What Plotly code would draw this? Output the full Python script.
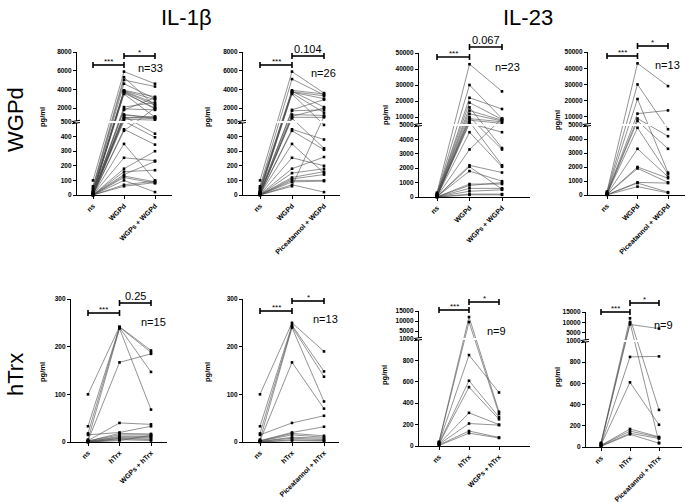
import plotly.graph_objects as go

W, H = 685, 502

# ---------------- data (pg/ml) ----------------
# IL-1b, WGPd stimulation, WGPs + WGPd (n=33)
p1_ns = [100, 60, 50, 40, 30, 25, 20, 20, 15, 15, 10, 10, 10, 8, 8, 5, 5, 5, 5, 3, 3, 3, 2, 2, 2, 1, 1, 1, 0, 0, 0, 0, 0]
p1_stim = [5900, 5300, 5000, 4600, 3900, 3850, 3800, 3750, 3700, 3600, 3500, 2100, 1900, 1800, 1300, 1250, 1100,
           1000, 900, 800, 600, 450, 440, 350, 255, 180, 160, 140, 130, 120, 100, 70, 60]
p1_treat = [4600, 2200, 4300, 3000, 3200, 2900, 2500, 2300, 1900, 2000, 1000, 2600, 1800, 3100, 950, 900, 420,
            850, 1100, 700, 395, 345, 2000, 100, 235, 300, 170, 230, 90, 80, 20, 95, 85]
# IL-1b, WGPd stimulation, Piceatannol + WGPd (n=26)
p2_ns = [100, 60, 50, 40, 30, 25, 20, 20, 15, 15, 10, 10, 8, 8, 5, 5, 5, 3, 3, 2, 2, 1, 1, 0, 0, 0]
p2_stim = [5900, 5100, 3900, 3800, 3750, 3700, 3600, 3500, 1800, 1700, 1300, 1100, 1000, 900, 450, 440, 350,
           255, 180, 150, 120, 110, 100, 90, 70, 60]
p2_treat = [3600, 3400, 3500, 2100, 3300, 3000, 1500, 480, 2900, 1800, 1200, 2000, 1000, 320, 380, 310, 150,
            200, 260, 180, 160, 140, 100, 95, 20, 1100]
# IL-23, WGPd stimulation, WGPs + WGPd (n=23)
p3_ns = [300, 250, 200, 200, 150, 150, 100, 100, 80, 60, 50, 50, 40, 30, 30, 20, 20, 10, 10, 5, 5, 0, 0]
p3_stim = [43000, 30000, 22000, 19000, 16000, 14000, 12000, 10000, 9000, 8000, 7000, 6000, 4500, 3300, 2200,
           2100, 1800, 900, 800, 600, 400, 200, 150]
p3_treat = [26000, 9000, 15000, 8500, 3400, 8000, 7500, 3300, 7000, 6000, 2200, 4500, 2100, 9000, 1700, 550,
            1100, 900, 1000, 600, 500, 200, 150]
# IL-23, WGPd stimulation, Piceatannol + WGPd (n=13)
p4_ns = [250, 200, 150, 120, 100, 80, 60, 50, 40, 30, 20, 10, 5]
p4_stim = [43000, 30000, 21000, 12000, 9000, 7500, 4800, 3300, 2000, 1900, 900, 850, 600]
p4_treat = [29000, 4700, 1600, 14000, 4200, 3300, 1500, 1300, 1200, 900, 850, 200, 150]
# IL-1b, hTrx stimulation, WGPs + hTrx (n=15)
p5_ns = [100, 33, 18, 5, 3, 3, 15, 2, 2, 1, 1, 0, 0, 0, 0]
p5_stim = [242, 241, 240, 238, 167, 40, 20, 18, 15, 12, 10, 8, 7, 5, 3]
p5_treat = [192, 188, 147, 68, 185, 37, 33, 17, 15, 12, 10, 8, 5, 3, 14]
# IL-1b, hTrx stimulation, Piceatannol + hTrx (n=13)
p6_ns = [100, 33, 18, 5, 3, 15, 3, 2, 2, 1, 1, 0, 0]
p6_stim = [250, 245, 242, 240, 167, 40, 20, 18, 15, 10, 8, 5, 3]
p6_treat = [190, 148, 137, 85, 70, 55, 32, 13, 10, 8, 5, 3, 2]
# IL-23, hTrx stimulation, WGPs + hTrx (n=9)
p7_ns = [40, 35, 30, 25, 20, 20, 15, 10, 5]
p7_stim = [12000, 9500, 850, 610, 550, 310, 210, 140, 120]
p7_treat = [320, 300, 500, 270, 250, 200, 195, 80, 75]
# IL-23, hTrx stimulation, Piceatannol + hTrx (n=9)
p8_ns = [40, 35, 30, 25, 20, 15, 15, 10, 5]
p8_stim = [12000, 10000, 9000, 850, 610, 170, 150, 130, 120]
p8_treat = [350, 40, 7000, 855, 210, 95, 90, 80, 35]

cats_wgps_wgpd = ["ns", "WGPd", "WGPs + WGPd"]
cats_pic_wgpd = ["ns", "WGPd", "Piceatannol + WGPd"]
cats_wgps_htrx = ["ns", "hTrx", "WGPs + hTrx"]
cats_pic_htrx = ["ns", "hTrx", "Piceatannol + hTrx"]

ticks_il1_wgpd_low = [0, 100, 200, 300, 400, 500]
ticks_il1_wgpd_high = [2000, 4000, 6000, 8000]
ticks_il23_wgpd_low = [0, 1000, 2000, 3000, 4000, 5000]
ticks_il23_wgpd_high = [10000, 20000, 30000, 40000, 50000]
ticks_il1_htrx = [0, 100, 200, 300]
ticks_il23_htrx_low = [0, 200, 400, 600, 800, 1000]
ticks_il23_htrx_high = [5000, 10000, 15000]

n_labels = ["n=33", "n=26", "n=23", "n=13", "n=15", "n=13", "n=9", "n=9"]
sig_left = ["***"] * 8
sig_right = ["*", "0.104", "0.067", "*", "0.25", "*", "*", "*"]

# ---------------- layout geometry (pixels) ----------------
panels = [
    dict(ns=p1_ns, st=p1_stim, tr=p1_treat, cats=cats_wgps_wgpd, ax=77, end=172, top=52, bot=195, c0=93, sp=31,
         brk=500, topv=8000, brkpx=122, lo=ticks_il1_wgpd_low, hi=ticks_il1_wgpd_high, ytl=42, ytly=117,
         n=(150, 68), b1=65, b2=56),
    dict(ns=p2_ns, st=p2_stim, tr=p2_treat, cats=cats_pic_wgpd, ax=243, end=340, top=52, bot=195, c0=260, sp=32,
         brk=500, topv=8000, brkpx=122, lo=ticks_il1_wgpd_low, hi=ticks_il1_wgpd_high, ytl=207, ytly=117,
         n=(323, 73), b1=65, b2=56),
    dict(ns=p3_ns, st=p3_stim, tr=p3_treat, cats=cats_wgps_wgpd, ax=419, end=530, top=53, bot=197, c0=437, sp=32.5,
         brk=5000, topv=50000, brkpx=125, lo=ticks_il23_wgpd_low, hi=ticks_il23_wgpd_high, ytl=385, ytly=115,
         n=(507, 67), b1=57, b2=47),
    dict(ns=p4_ns, st=p4_stim, tr=p4_treat, cats=cats_pic_wgpd, ax=588, end=685, top=52, bot=195, c0=607, sp=30.5,
         brk=5000, topv=50000, brkpx=125, lo=ticks_il23_wgpd_low, hi=ticks_il23_wgpd_high, ytl=557, ytly=120,
         n=(667, 65), b1=56, b2=46),
    dict(ns=p5_ns, st=p5_stim, tr=p5_treat, cats=cats_wgps_htrx, ax=71, end=167, top=299, bot=442, c0=88, sp=31.5,
         brk=None, topv=300, brkpx=None, lo=ticks_il1_htrx, hi=[], ytl=42, ytly=372,
         n=(153, 322), b1=313, b2=303),
    dict(ns=p6_ns, st=p6_stim, tr=p6_treat, cats=cats_pic_htrx, ax=243, end=339, top=299, bot=442, c0=260, sp=32,
         brk=None, topv=300, brkpx=None, lo=ticks_il1_htrx, hi=[], ytl=207, ytly=372,
         n=(325, 319), b1=311, b2=301),
    dict(ns=p7_ns, st=p7_stim, tr=p7_treat, cats=cats_wgps_htrx, ax=419, end=530, top=311, bot=446, c0=439, sp=30,
         brk=1000, topv=15000, brkpx=339, lo=ticks_il23_htrx_low, hi=ticks_il23_htrx_high, ytl=384, ytly=375,
         n=(496, 331), b1=310, b2=302),
    dict(ns=p8_ns, st=p8_stim, tr=p8_treat, cats=cats_pic_htrx, ax=586, end=682, top=312, bot=447, c0=601, sp=29,
         brk=1000, topv=15000, brkpx=341, lo=ticks_il23_htrx_low, hi=ticks_il23_htrx_high, ytl=557, ytly=377,
         n=(663, 325), b1=312, b2=303),
]

FONT = "Liberation Sans, Arial, sans-serif"


def make_tf(p):
    if p["brk"] is None:
        return (lambda v: v), p["topv"]
    k = (p["brkpx"] - p["top"]) / (p["bot"] - p["brkpx"])
    b, t = p["brk"], p["topv"]

    def f(v):
        return v / b if v <= b else 1 + (v - b) / (t - b) * k
    return f, 1 + k


def txt(x, y, text, size, angle=0, bold=False):
    return dict(xref="paper", yref="paper", x=x / W, y=1 - y / H, text=("<b>%s</b>" % text) if bold else text,
                textangle=angle, showarrow=False, xanchor="center", yanchor="middle",
                font=dict(size=size, family=FONT, color="black"))


fig = go.Figure()
shapes, annos = [], []

for i, p in enumerate(panels, start=1):
    sfx = "" if i == 1 else str(i)
    tf, ytop = make_tf(p)
    xs, ys = [], []
    for a, b, c in zip(p["ns"], p["st"], p["tr"]):
        xs += [0, 1, 2, None]
        ys += [tf(a), tf(b), tf(c), None]
    fig.add_trace(go.Scatter(
        x=xs, y=ys, mode="lines+markers", xaxis="x" + sfx, yaxis="y" + sfx,
        line=dict(color="#4a4a4a", width=0.6),
        marker=dict(symbol="square", size=2.6, color="black"),
        cliponaxis=False, showlegend=False, hoverinfo="skip"))

    hpx = p["bot"] - p["top"]
    tickv = [tf(v) for v in p["lo"] + p["hi"]]
    tickt = ["<b>%d</b>" % v for v in p["lo"] + p["hi"]]
    x0 = (p["ax"] - p["c0"]) / p["sp"]
    x1 = (p["end"] - p["c0"]) / p["sp"]
    fig.layout["xaxis" + sfx] = dict(
        domain=[p["ax"] / W, p["end"] / W], anchor="y" + sfx, range=[x0, x1], automargin=False,
        tickvals=[0, 1, 2], ticktext=["<b>%s</b>" % c for c in p["cats"]], tickangle=-45,
        showline=True, linecolor="black", linewidth=1.2, ticks="outside", ticklen=3, tickwidth=1,
        tickcolor="black", showgrid=False, zeroline=False, tickfont=dict(size=7, family=FONT, color="black"))
    fig.layout["yaxis" + sfx] = dict(
        domain=[1 - p["bot"] / H, 1 - p["top"] / H], anchor="x" + sfx, range=[0, ytop], automargin=False,
        tickvals=tickv, ticktext=tickt, showline=True, linecolor="black", linewidth=1.2,
        ticks="outside", ticklen=3, tickwidth=1, tickcolor="black", showgrid=False, zeroline=False,
        tickfont=dict(size=6.5, family=FONT, color="black"))

    xd, yd = "x%s domain" % sfx, "y%s domain" % sfx
    xr = "x" + sfx
    # axis break
    if p["brk"] is not None:
        fb = (p["bot"] - p["brkpx"]) / hpx
        g = 1.1 / hpx
        shapes.append(dict(type="rect", xref=xd, yref=yd, x0=-0.015, x1=1.0, y0=fb - g, y1=fb + g,
                           fillcolor="white", line=dict(width=0), layer="above"))
        for s in (-1, 1):
            shapes.append(dict(type="line", xref=xd, yref=yd, x0=-5 / (p["end"] - p["ax"]),
                               x1=3 / (p["end"] - p["ax"]), y0=fb + s * g - 0.6 / hpx, y1=fb + s * g + 0.6 / hpx,
                               line=dict(color="black", width=1), layer="above"))
    # significance brackets
    for (xa, xb, lev, t, big) in [(0, 1, p["b1"], sig_left[i - 1], False),
                                   (1, 2, p["b2"], sig_right[i - 1], sig_right[i - 1] != "*")]:
        yy = (p["bot"] - lev) / hpx
        cap = 3 / hpx
        shapes.append(dict(type="line", xref=xr, yref=yd, x0=xa, x1=xb, y0=yy, y1=yy,
                           line=dict(color="black", width=1.6)))
        for xc in (xa, xb):
            shapes.append(dict(type="line", xref=xr, yref=yd, x0=xc, x1=xc, y0=yy - cap, y1=yy + cap,
                               line=dict(color="black", width=1.6)))
        annos.append(dict(xref=xr, yref=yd, x=(xa + xb) / 2, y=yy, text=t, showarrow=False,
                          xanchor="center", yanchor="bottom", yshift=-1 if big else -3,
                          font=dict(size=11 if big else 8, family=FONT, color="black")))
    annos.append(txt(p["n"][0], p["n"][1], n_labels[i - 1], 11))
    annos.append(txt(p["ytl"], p["ytly"], "pg/ml", 7.5, angle=-90, bold=True))

# column and row titles
annos += [
    txt(186, 18, "IL-1β", 22),
    txt(528, 18, "IL-23", 22),
    txt(15, 120, "WGPd", 22, angle=-90),
    txt(15, 375, "hTrx", 22, angle=-90),
]

fig.update_layout(template="none", width=W, height=H, margin=dict(l=0, r=0, t=0, b=0, pad=0),
                  paper_bgcolor="white", plot_bgcolor="white", shapes=shapes, annotations=annos,
                  font=dict(family=FONT), showlegend=False)
fig.write_html("out.html", config={"displayModeBar": False},
               post_script="document.body.style.margin='0px';document.body.style.overflow='hidden';")
